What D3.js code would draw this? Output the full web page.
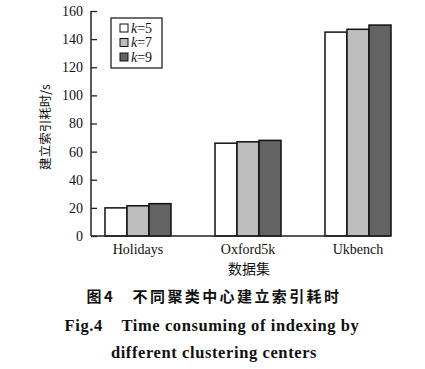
<!DOCTYPE html>
<html lang="zh">
<head>
<meta charset="UTF-8">
<title>Fig.4</title>
<script src="https://cdn.jsdelivr.net/npm/d3@7"></script>
<style>
    body { margin: 0; background: #ffffff; }
    text { font-family: "Liberation Serif", "Times New Roman", serif; fill: #111; }
    .cjk { font-family: "Noto Sans CJK SC", sans-serif; }
</style>
</head>
<body>
<div id="chart"></div>
<script>
    var WIDTH = 425, HEIGHT = 369;

    var DATASETS = ["Holidays", "Oxford5k", "Ukbench"];
    var K_LABELS = ["5", "7", "9"];
    var K5 = [20, 66, 145];
    var K7 = [21.5, 67, 147];
    var K9 = [23, 68, 150];
    var Y_TICKS = [0, 20, 40, 60, 80, 100, 120, 140, 160];
    var COLORS = ["#ffffff", "#bdbdbd", "#636363"];

    var SERIES = [K5, K7, K9];

    var svg = d3.select("#chart").append("svg")
        .attr("width", WIDTH)
        .attr("height", HEIGHT);

    var AXIS_LEFT = 91, AXIS_RIGHT = 390;

    var y = d3.scaleLinear().domain([0, 160]).range([236, 11]);
    var x0 = d3.scaleBand().domain(DATASETS).range([83, 413]).paddingInner(0.4).paddingOuter(0.2);
    var x1 = d3.scaleBand().domain(d3.range(SERIES.length)).range([0, x0.bandwidth()]);

    // bars
    DATASETS.forEach(function(ds, i) {
        var g = svg.append("g").attr("transform", "translate(" + x0(ds) + ",0)");
        g.selectAll("rect")
            .data(SERIES.map(function(s, j) { return {j: j, v: s[i]}; }))
            .enter().append("rect")
            .attr("x", function(d) { return x1(d.j); })
            .attr("y", function(d) { return y(d.v); })
            .attr("width", x1.bandwidth())
            .attr("height", function(d) { return y(0) - y(d.v); })
            .attr("fill", function(d) { return COLORS[d.j]; })
            .attr("stroke", "#111")
            .attr("stroke-width", 1.5);
    });

    // y axis, ticks point inward
    var yAxis = svg.append("g")
        .attr("transform", "translate(" + AXIS_LEFT + ",0)")
        .call(d3.axisRight(y).tickValues(Y_TICKS).tickSize(6).tickSizeOuter(0));
    yAxis.select(".domain").remove();
    yAxis.selectAll(".tick line").attr("stroke", "#222").attr("stroke-width", 1.3);
    yAxis.selectAll(".tick text")
        .attr("x", -8)
        .attr("text-anchor", "end")
        .style("font-size", "14px")
        .style("font-family", "Liberation Serif, serif");
    svg.append("line")
        .attr("x1", AXIS_LEFT).attr("x2", AXIS_LEFT)
        .attr("y1", y(160)).attr("y2", y(0))
        .attr("stroke", "#222").attr("stroke-width", 1.5);

    // x axis
    var xAxis = svg.append("g")
        .attr("transform", "translate(0," + y(0) + ")")
        .call(d3.axisBottom(x0).tickSize(0));
    xAxis.select(".domain").remove();
    xAxis.selectAll(".tick text")
        .attr("dy", "1.1em")
        .style("font-size", "14px")
        .style("font-family", "Liberation Serif, serif");
    svg.append("line")
        .attr("x1", AXIS_LEFT).attr("x2", AXIS_RIGHT)
        .attr("y1", y(0)).attr("y2", y(0))
        .attr("stroke", "#222").attr("stroke-width", 1.5);

    // axis titles
    svg.append("text").attr("class", "cjk")
        .attr("x", 249).attr("y", 274)
        .attr("text-anchor", "middle")
        .style("font-size", "14px")
        .text("数据集");

    svg.append("text").attr("class", "cjk")
        .attr("transform", "translate(50,127) rotate(-90)")
        .attr("text-anchor", "middle")
        .style("font-size", "12.5px")
        .text("建立索引耗时/s");

    // legend
    var legend = svg.append("g").attr("transform", "translate(111,18)");
    legend.append("rect")
        .attr("width", 51).attr("height", 50)
        .attr("fill", "#fff").attr("stroke", "#111").attr("stroke-width", 1.2);
    K_LABELS.forEach(function(k, i) {
        var row = legend.append("g").attr("transform", "translate(9," + (6 + i * 14.5) + ")");
        row.append("rect")
            .attr("width", 8).attr("height", 8)
            .attr("fill", COLORS[i]).attr("stroke", "#111").attr("stroke-width", 1);
        var t = row.append("text").attr("x", 11).attr("y", 8.5)
            .style("font-size", "14px");
        t.append("tspan").style("font-style", "italic").text("k");
        t.append("tspan").text("=" + k);
    });

    // captions
    svg.append("text").attr("class", "cjk")
        .attr("x", 214).attr("y", 302)
        .attr("text-anchor", "middle")
        .style("font-size", "15px")
        .style("font-weight", "bold")
        .style("letter-spacing", "2.4px")
        .text("图4\u3000不同聚类中心建立索引耗时");

    svg.append("text")
        .attr("x", 212).attr("y", 331)
        .attr("text-anchor", "middle")
        .style("font-size", "16.5px")
        .style("font-weight", "bold")
        .style("letter-spacing", "0.6px")
        .attr("xml:space", "preserve")
        .text("Fig.4    Time consuming of indexing by");

    svg.append("text")
        .attr("x", 214).attr("y", 358)
        .attr("text-anchor", "middle")
        .style("font-size", "16.5px")
        .style("font-weight", "bold")
        .style("letter-spacing", "0.6px")
        .text("different clustering centers");
</script>
</body>
</html>
